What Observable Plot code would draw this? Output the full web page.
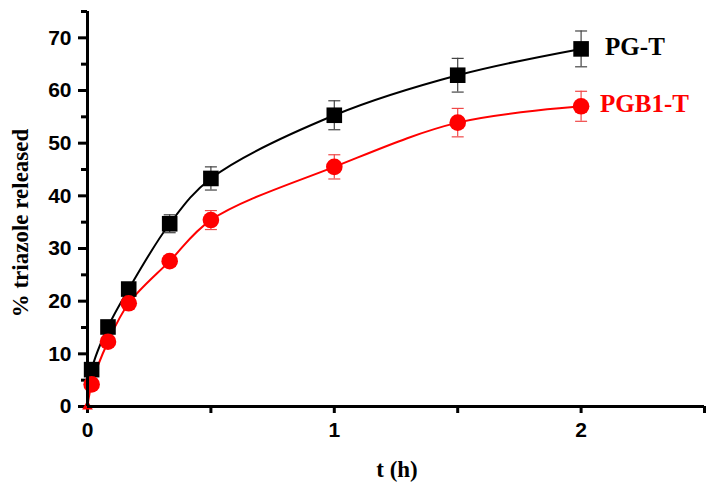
<!DOCTYPE html>
<html>
<head>
<meta charset="utf-8">
<script src="https://cdn.jsdelivr.net/npm/d3@7"></script>
<script src="https://cdn.jsdelivr.net/npm/@observablehq/plot@0.6"></script>
<style>
  body { margin: 0; background: #fff; }
</style>
</head>
<body>
<div id="chart"></div>
<script>
// time points (h)
const times = [0.0167, 0.083, 0.167, 0.333, 0.5, 1, 1.5, 2];
// % triazole released
const pgT = [7.0, 15.1, 22.3, 34.7, 43.3, 55.3, 62.9, 67.9];
const pgTErr = [1.0, 1.0, 1.0, 1.7, 2.2, 2.75, 3.2, 3.4];
const pgb1T = [4.2, 12.3, 19.6, 27.6, 35.4, 45.5, 53.9, 57.0];
const pgb1TErr = [0.8, 0.8, 0.8, 1.0, 1.8, 2.3, 2.7, 2.85];
// curves start at origin
const startT = 0, startV = 0;
const seriesNames = ["PG-T", "PGB1-T"];
const xMajorTicks = [0, 1, 2];
const xMinorTicks = [0.5, 1.5, 2.5];
const yMajorTicks = [0, 10, 20, 30, 40, 50, 60, 70];
const yMinorTicks = [5, 15, 25, 35, 45, 55, 65, 75];

const black = times.map((t, i) => ({t, v: pgT[i], e: pgTErr[i]}));
const red = times.map((t, i) => ({t, v: pgb1T[i], e: pgb1TErr[i]}));
const blackCurve = [{t: startT, v: startV}, ...black];
const redCurve = [{t: startT, v: startV}, ...red];

const capSymbol = {
  draw(context, size) {
    const h = Math.sqrt(size / Math.PI);
    context.moveTo(-h, 0);
    context.lineTo(h, 0);
  }
};

const sans = "'Liberation Sans', Arial, sans-serif";
const serif = "'Liberation Serif', 'Times New Roman', serif";

function errorMarks(data, color) {
  return [
    Plot.ruleX(data, {x: "t", y1: d => d.v - d.e, y2: d => d.v + d.e, stroke: color, strokeWidth: 1.2}),
    Plot.dot(data, {x: "t", y: d => d.v + d.e, symbol: capSymbol, r: 6, stroke: color, strokeWidth: 1.2, fill: "none"}),
    Plot.dot(data, {x: "t", y: d => d.v - d.e, symbol: capSymbol, r: 6, stroke: color, strokeWidth: 1.2, fill: "none"})
  ];
}

const chart = Plot.plot({
  width: 713,
  height: 484,
  marginLeft: 87,
  marginRight: 9,
  marginTop: 11,
  marginBottom: 78,
  style: {fontFamily: sans, fontSize: "21px", fontWeight: "bold", background: "#fff", color: "#000"},
  x: {domain: [0, 2.5]},
  y: {domain: [0, 75]},
  marks: [
    Plot.axisX({ticks: xMajorTicks, tickSize: 7, tickPadding: 9, strokeWidth: 3, label: null, tickFormat: d => String(d)}),
    Plot.axisX({ticks: xMinorTicks, tickSize: 7, text: null, strokeWidth: 3, label: null}),
    Plot.axisY({ticks: yMajorTicks, tickSize: 9, tickPadding: 7, strokeWidth: 3, label: null}),
    Plot.axisY({ticks: yMinorTicks, tickSize: 6, text: null, strokeWidth: 3, label: null}),
    Plot.line(blackCurve, {x: "t", y: "v", stroke: "#000", strokeWidth: 2, curve: "catmull-rom"}),
    Plot.line(redCurve, {x: "t", y: "v", stroke: "#ff0000", strokeWidth: 2, curve: "catmull-rom"}),
    ...errorMarks(black, "#444"),
    ...errorMarks(red, "#f04848"),
    Plot.dot([{t: startT, v: startV}], {x: "t", y: "v", symbol: "triangle", r: 4, fill: "#ff0000"}),
    Plot.dot(black, {x: "t", y: "v", symbol: "square", r: 8.8, fill: "#000"}),
    Plot.dot(red, {x: "t", y: "v", symbol: "circle", r: 8.3, fill: "#ff0000"}),
    Plot.ruleX([0], {stroke: "#000", strokeWidth: 3}),
    Plot.ruleY([0], {stroke: "#000", strokeWidth: 3}),
    Plot.text([black[black.length - 1]], {x: "t", y: "v", text: () => seriesNames[0], dx: 24, dy: -2, textAnchor: "start", fill: "#000", fontFamily: serif, fontSize: 25, fontWeight: "bold"}),
    Plot.text([red[red.length - 1]], {x: "t", y: "v", text: () => seriesNames[1], dx: 19, dy: -2, textAnchor: "start", fill: "#ff0000", fontFamily: serif, fontSize: 25, fontWeight: "bold"}),
    Plot.text(["% triazole released"], {frameAnchor: "left", textAnchor: "middle", rotate: -90, dx: -67, dy: 14, fontFamily: serif, fontSize: 23, fontWeight: "bold", fill: "#000"}),
    Plot.text(["t (h)"], {frameAnchor: "bottom", lineAnchor: "middle", dx: 1, dy: 63, fontFamily: serif, fontSize: 23, fontWeight: "bold", fill: "#000"})
  ]
});
document.getElementById("chart").appendChild(chart);
</script>
</body>
</html>
